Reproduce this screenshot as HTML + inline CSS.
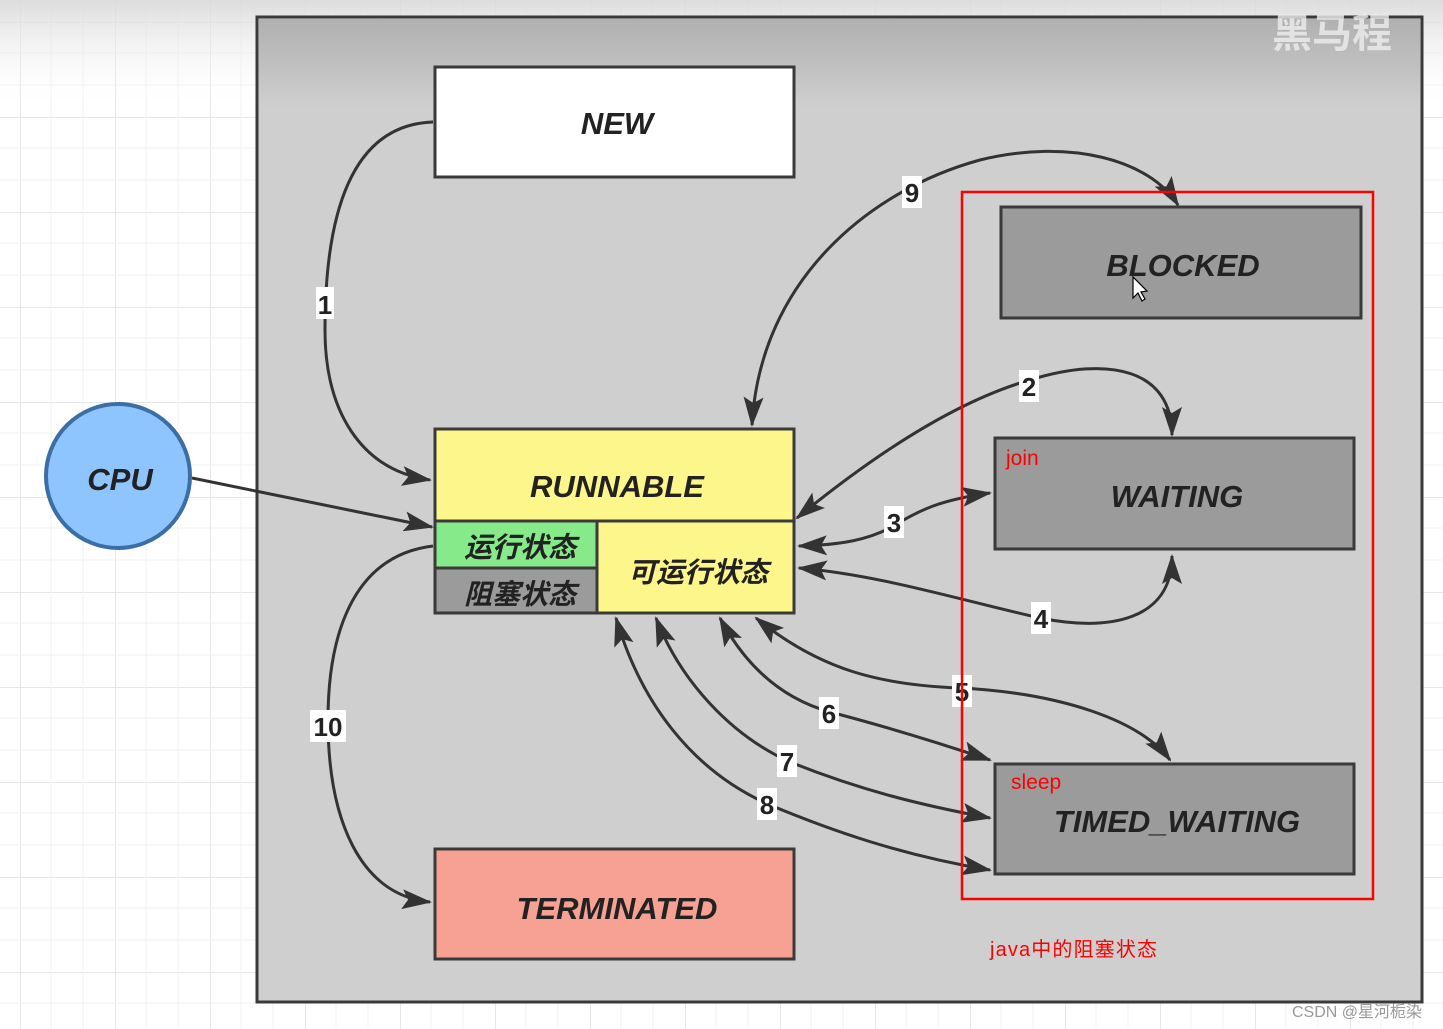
<!DOCTYPE html>
<html><head><meta charset="utf-8"><style>
body{margin:0;width:1443px;height:1029px;overflow:hidden;background:#fff}
svg{display:block}
.lb{font-family:"Liberation Sans","Noto Sans CJK SC",sans-serif;font-weight:bold;font-style:italic;fill:#222}
.num{font-family:"Liberation Sans",sans-serif;font-weight:bold;font-size:26px;fill:#222}
</style></head><body>
<svg width="1443" height="1029" viewBox="0 0 1443 1029">
<defs>
<pattern id="g" width="95" height="95" patternUnits="userSpaceOnUse" x="20" y="22">
<path d="M0 0H95M0 0V95" stroke="#e6e6e6" stroke-width="2" fill="none"/>
<path d="M0 31H95M0 63H95M31 0V95M63 0V95" stroke="#f1f1f1" stroke-width="1" fill="none"/>
</pattern>
<linearGradient id="top" x1="0" y1="0" x2="0" y2="1"><stop offset="0" stop-color="#d8d8d8" stop-opacity="0.9"/><stop offset="1" stop-color="#fff" stop-opacity="0"/></linearGradient>
<linearGradient id="bg" x1="0" y1="0" x2="0" y2="1"><stop offset="0" stop-color="#b0b0b0"/><stop offset="1" stop-color="#cfcfcf"/></linearGradient>
<marker id="A" viewBox="0 0 30 20" refX="28" refY="10" markerWidth="30" markerHeight="20" orient="auto-start-reverse" markerUnits="userSpaceOnUse"><path d="M0 0L30 10L0 20L6 10Z" fill="#333"/></marker>
</defs>
<rect width="1443" height="1029" fill="url(#g)"/>
<rect width="1443" height="110" fill="url(#top)"/>
<rect x="257" y="17" width="1165" height="985" fill="#cfcfcf" stroke="#3a3a3a" stroke-width="3"/>
<rect x="259" y="19" width="1161" height="90" fill="url(#bg)"/>
<text x="1272" y="47" font-family="Liberation Sans,Noto Sans CJK SC,sans-serif" font-weight="bold" font-size="40" fill="#eee" opacity="0.8">黑马程</text>

<g fill="none" stroke="#333" stroke-width="3">
<path d="M433 122C340 125 325 240 325 330C325 410 360 470 430 480" marker-end="url(#A)"/>
<path d="M192 478L432 527" marker-end="url(#A)"/>
<path d="M433 546C350 556 328 640 328 720C328 820 360 895 430 902" marker-end="url(#A)"/>
<path d="M752 425C760 280 870 190 980 160C1070 138 1150 160 1178 205" marker-start="url(#A)" marker-end="url(#A)"/>
<path d="M797 518C880 450 960 400 1030 380C1110 355 1172 370 1172 435" marker-start="url(#A)" marker-end="url(#A)"/>
<path d="M990 493C940 500 920 510 895 525C870 540 840 545 799 546" marker-start="url(#A)" marker-end="url(#A)"/>
<path d="M799 568C880 575 960 600 1040 618C1110 632 1172 620 1172 556" marker-start="url(#A)" marker-end="url(#A)"/>
<path d="M756 618C820 670 880 685 960 688C1060 693 1140 720 1170 760" marker-start="url(#A)" marker-end="url(#A)"/>
<path d="M990 760C930 740 880 725 830 712C780 698 745 665 720 618" marker-start="url(#A)" marker-end="url(#A)"/>
<path d="M990 818C920 805 860 790 790 762C730 735 680 680 656 618" marker-start="url(#A)" marker-end="url(#A)"/>
<path d="M990 870C900 855 830 830 770 805C690 770 640 700 616 618" marker-start="url(#A)" marker-end="url(#A)"/>
</g>

<rect x="435" y="67" width="359" height="110" fill="#fff" stroke="#3a3a3a" stroke-width="3"/>
<text class="lb" x="617" y="134" font-size="31" text-anchor="middle">NEW</text>
<rect x="1001" y="207" width="360" height="111" fill="#9b9b9b" stroke="#3a3a3a" stroke-width="3"/>
<text class="lb" x="1183" y="276" font-size="31" text-anchor="middle">BLOCKED</text>
<rect x="995" y="438" width="359" height="111" fill="#9b9b9b" stroke="#3a3a3a" stroke-width="3"/>
<text class="lb" x="1177" y="507" font-size="31" text-anchor="middle">WAITING</text>
<rect x="995" y="764" width="359" height="110" fill="#9b9b9b" stroke="#3a3a3a" stroke-width="3"/>
<text class="lb" x="1177" y="832" font-size="31" text-anchor="middle">TIMED_WAITING</text>
<rect x="435" y="849" width="359" height="110" fill="#f6a193" stroke="#3a3a3a" stroke-width="3"/>
<text class="lb" x="617" y="919" font-size="31" text-anchor="middle">TERMINATED</text>

<rect x="435" y="429" width="359" height="184" fill="#fdf68a" stroke="#3a3a3a" stroke-width="3"/>
<line x1="435" y1="521" x2="794" y2="521" stroke="#3a3a3a" stroke-width="3"/>
<rect x="435" y="521" width="162" height="47" fill="#86ea8a" stroke="#3a3a3a" stroke-width="3"/>
<rect x="435" y="568" width="162" height="45" fill="#9b9b9b" stroke="#3a3a3a" stroke-width="3"/>
<text class="lb" x="617" y="497" font-size="31" text-anchor="middle">RUNNABLE</text>
<text class="lb" x="520" y="557" font-size="28" text-anchor="middle">运行状态</text>
<text class="lb" x="520" y="604" font-size="28" text-anchor="middle">阻塞状态</text>
<text class="lb" x="698" y="582" font-size="28" text-anchor="middle">可运行状态</text>

<circle cx="118" cy="476" r="72" fill="#8ec5ff" stroke="#3a6ea5" stroke-width="4"/>
<text class="lb" x="120" y="490" font-size="31" text-anchor="middle">CPU</text>

<g>
<rect x="316" y="287" width="18" height="32" fill="#fff"/><text class="num" x="325" y="314" text-anchor="middle">1</text>
<rect x="1019" y="370" width="20" height="32" fill="#fff"/><text class="num" x="1029" y="396" text-anchor="middle">2</text>
<rect x="884" y="506" width="20" height="32" fill="#fff"/><text class="num" x="894" y="532" text-anchor="middle">3</text>
<rect x="1031" y="602" width="20" height="32" fill="#fff"/><text class="num" x="1041" y="628" text-anchor="middle">4</text>
<rect x="952" y="675" width="20" height="32" fill="#fff"/><text class="num" x="962" y="701" text-anchor="middle">5</text>
<rect x="819" y="697" width="20" height="32" fill="#fff"/><text class="num" x="829" y="723" text-anchor="middle">6</text>
<rect x="777" y="745" width="20" height="32" fill="#fff"/><text class="num" x="787" y="771" text-anchor="middle">7</text>
<rect x="757" y="788" width="20" height="32" fill="#fff"/><text class="num" x="767" y="814" text-anchor="middle">8</text>
<rect x="902" y="176" width="20" height="32" fill="#fff"/><text class="num" x="912" y="202" text-anchor="middle">9</text>
<rect x="310" y="710" width="36" height="32" fill="#fff"/><text class="num" x="328" y="736" text-anchor="middle">10</text>
</g>

<rect x="962" y="192" width="411" height="707" fill="none" stroke="#f00" stroke-width="2.5"/>
<text x="1006" y="465" font-family="Liberation Sans,sans-serif" font-size="21" fill="#f00">join</text>
<text x="1011" y="789" font-family="Liberation Sans,sans-serif" font-size="21" fill="#f00">sleep</text>
<text x="990" y="956" font-family="Liberation Sans,Noto Sans CJK SC,sans-serif" font-size="20" fill="#f00" textLength="167">java中的阻塞状态</text>
<text x="1292" y="1017" font-family="Liberation Sans,Noto Sans CJK SC,sans-serif" font-size="16" fill="#999">CSDN @星河栀染</text>
<path d="M1133 277L1133 298L1138 293L1142 301L1145 299L1141 292L1147 291Z" fill="#fff" stroke="#000" stroke-width="1.2"/>
</svg>
</body></html>
